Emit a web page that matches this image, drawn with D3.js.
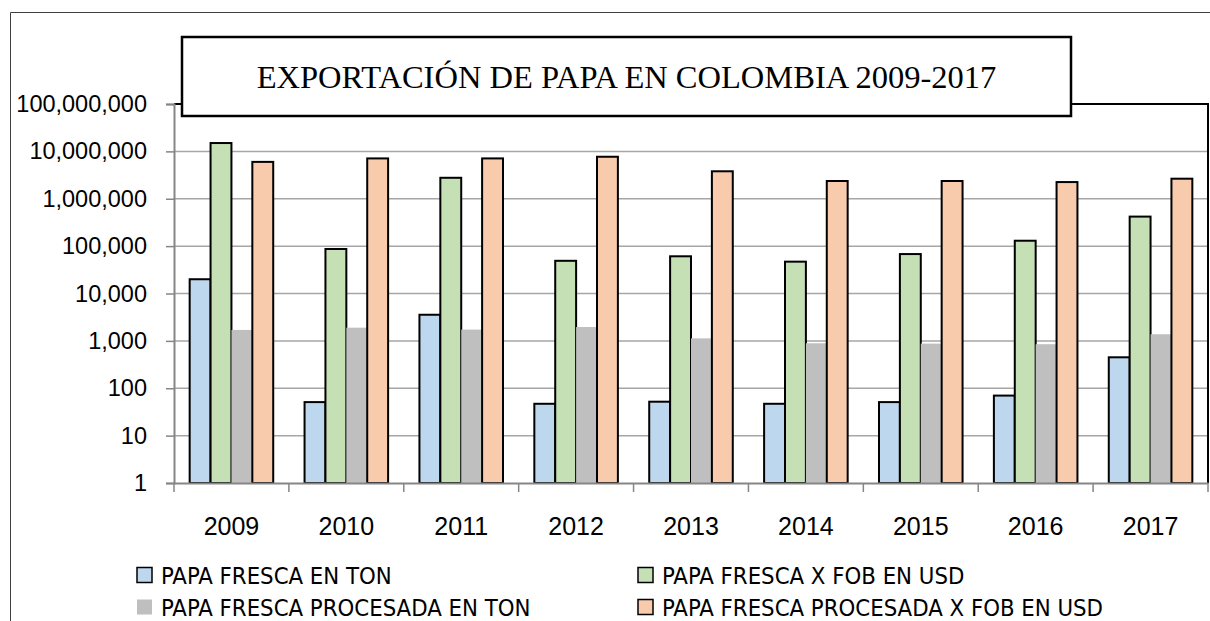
<!DOCTYPE html>
<html>
<head>
<meta charset="utf-8">
<script src="https://cdn.jsdelivr.net/npm/d3@7"></script>
<style>
  body { margin: 0; background: #fff; }
  svg { display: block; }
</style>
</head>
<body>
<div id="chart"></div>
<script>
// Data
const years = ["2009", "2010", "2011", "2012", "2013", "2014", "2015", "2016", "2017"];
const frescaTon = [20000, 51, 3560, 47, 52, 47, 51, 70, 450];
const frescaFob = [15000000, 87000, 2770000, 49000, 61000, 47000, 68000, 130000, 420000];
const procesadaTon = [1700, 1900, 1730, 1960, 1130, 890, 875, 850, 1380];
const procesadaFob = [6000000, 7100000, 7100000, 7700000, 3800000, 2370000, 2370000, 2250000, 2650000];
const seriesNames = [
    "PAPA FRESCA EN TON",
    "PAPA FRESCA X FOB EN USD",
    "PAPA FRESCA PROCESADA EN TON",
    "PAPA FRESCA PROCESADA X FOB EN USD"
];
const yTicks = [1, 10, 100, 1000, 10000, 100000, 1000000, 10000000, 100000000];
const title = "EXPORTACIÓN DE PAPA EN COLOMBIA 2009-2017";

const seriesValues = [frescaTon, frescaFob, procesadaTon, procesadaFob];
const colors = ["#bdd7ee", "#c5e0b4", "#bfbfbf", "#f8cbad"];
const strokes = ["#000", "#000", "none", "#000"];

const width = 1210;
const height = 621;
const plot = { left: 174, right: 1208, top: 104, bottom: 483 };

const sansFont = "'Liberation Sans', Arial, sans-serif";
const narrowFont = "'Liberation Sans Narrow', 'Arial Narrow', 'DejaVu Sans Condensed', sans-serif";

const svg = d3.select("#chart")
    .append("svg")
    .attr("width", width)
    .attr("height", height);

// outer frame (only top and left show in the crop)
svg.append("path")
    .attr("d", `M10.5,${height} V12.5 H${width}`)
    .attr("fill", "none")
    .attr("stroke", "#404040")
    .attr("stroke-width", 1);

// scales
const xScale = d3.scaleBand()
    .domain(years)
    .range([plot.left, plot.right]);

const xSub = d3.scaleBand()
    .domain(d3.range(seriesNames.length))
    .range([0, xScale.bandwidth()])
    .paddingOuter(0.75);

const yScale = d3.scaleLog()
    .domain([1, 100000000])
    .range([plot.bottom, plot.top]);

// gridlines
svg.append("g")
    .selectAll("line")
    .data(yTicks.slice(1))
    .join("line")
    .attr("x1", plot.left)
    .attr("x2", plot.right)
    .attr("y1", d => yScale(d))
    .attr("y2", d => yScale(d))
    .attr("stroke", "#a6a6a6")
    .attr("stroke-width", 1.5);

// plot area border, top and right
svg.append("path")
    .attr("d", `M${plot.left},${plot.top} H${plot.right} V${plot.bottom}`)
    .attr("fill", "none")
    .attr("stroke", "#000")
    .attr("stroke-width", 2);

// bars
const rows = years.map((y, i) => ({ year: y, values: seriesValues.map(s => s[i]) }));

svg.append("g")
    .selectAll("g")
    .data(rows)
    .join("g")
    .attr("transform", d => `translate(${xScale(d.year)},0)`)
    .selectAll("rect")
    .data(d => d.values.map((v, k) => ({ k, v })))
    .join("rect")
    .attr("x", d => xSub(d.k))
    .attr("width", xSub.bandwidth())
    .attr("y", d => yScale(d.v))
    .attr("height", d => plot.bottom - yScale(d.v))
    .attr("fill", d => colors[d.k])
    .attr("stroke", d => strokes[d.k])
    .attr("stroke-width", 2);

// y axis
svg.append("g")
    .attr("class", "y-axis")
    .attr("transform", `translate(${plot.left},0)`)
    .call(d3.axisLeft(yScale)
        .tickValues(yTicks)
        .tickFormat(d3.format(","))
        .tickSize(8)
        .tickPadding(19))
    .call(g => g.select(".domain").attr("stroke", "#868686").attr("stroke-width", 2))
    .call(g => g.selectAll(".tick line").attr("stroke", "#868686").attr("stroke-width", 1.5))
    .call(g => g.selectAll(".tick text")
        .attr("fill", "#000")
        .style("font-family", sansFont)
        .style("font-size", "23.5px"));

// x axis
svg.append("g")
    .attr("class", "x-axis")
    .attr("transform", `translate(0,${plot.bottom})`)
    .call(d3.axisBottom(xScale).tickSize(0).tickSizeOuter(0))
    .call(g => g.select(".domain").attr("stroke", "#868686").attr("stroke-width", 2))
    .call(g => g.selectAll(".tick text")
        .attr("y", 52)
        .attr("dy", 0)
        .attr("fill", "#000")
        .style("font-family", sansFont)
        .style("font-size", "25px"));

// x ticks on the category boundaries
svg.append("g")
    .selectAll("line")
    .data(years.map(y => xScale(y)).concat([plot.right]))
    .join("line")
    .attr("x1", d => d)
    .attr("x2", d => d)
    .attr("y1", plot.bottom)
    .attr("y2", plot.bottom + 9)
    .attr("stroke", "#868686")
    .attr("stroke-width", 1.5);

// title box
svg.append("rect")
    .attr("x", 182)
    .attr("y", 37)
    .attr("width", 889)
    .attr("height", 79)
    .attr("fill", "#fff")
    .attr("stroke", "#000")
    .attr("stroke-width", 2.5);

svg.append("text")
    .attr("x", 626.5)
    .attr("y", 88)
    .attr("text-anchor", "middle")
    .style("font-family", "'Liberation Serif', 'Times New Roman', serif")
    .style("font-size", "32.5px")
    .text(title);

// legend
const legendPos = [
    { x: 137, y: 575 },
    { x: 638, y: 575 },
    { x: 137, y: 607 },
    { x: 638, y: 607 }
];

const legend = svg.append("g")
    .selectAll("g")
    .data(seriesNames)
    .join("g")
    .attr("transform", (d, i) => `translate(${legendPos[i].x},${legendPos[i].y})`);

legend.append("rect")
    .attr("x", 0)
    .attr("y", -7.5)
    .attr("width", 15)
    .attr("height", 15)
    .attr("fill", (d, i) => colors[i])
    .attr("stroke", (d, i) => strokes[i])
    .attr("stroke-width", 1.5);

legend.append("text")
    .attr("x", 24)
    .attr("y", 0)
    .attr("dy", "0.36em")
    .style("font-family", narrowFont)
    .style("font-size", "23.7px")
    .text(d => d);
</script>
</body>
</html>
